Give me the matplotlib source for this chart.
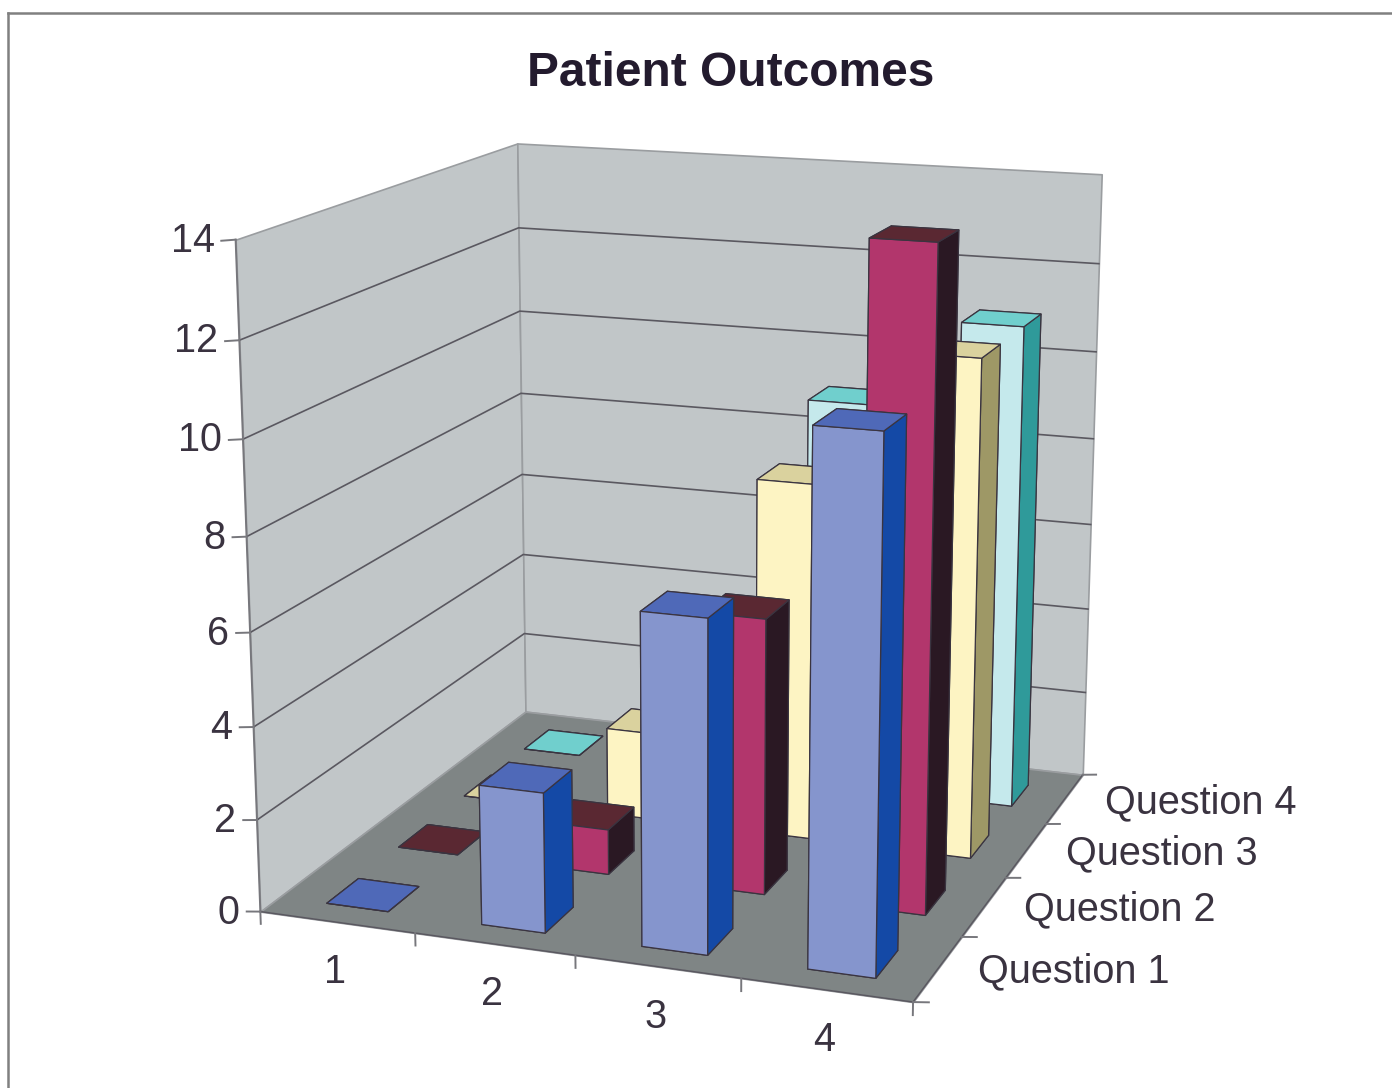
import numpy as np
import matplotlib
matplotlib.use("Agg")
import matplotlib.pyplot as plt
from matplotlib.lines import Line2D
from matplotlib.ticker import NullLocator
from mpl_toolkits.mplot3d import Axes3D, proj3d
from mpl_toolkits.mplot3d.art3d import Poly3DCollection

plt.rcParams["font.family"] = ["Liberation Sans", "DejaVu Sans"]

# Chart data
categories = ["1", "2", "3", "4"]
series_names = ["Question 1", "Question 2", "Question 3", "Question 4"]
question_1 = [0, 3, 7, 11]
question_2 = [0, 1, 6, 14]
question_3 = [0, 2, 8, 11]
question_4 = [0, 3, 9, 11]
z_ticks = [0, 2, 4, 6, 8, 10, 12, 14]

# Face colours per series: front, top, side
series_colors = [
    ("#8595CD", "#4F69B8", "#1449A6"),
    ("#B2366C", "#5A2832", "#2A1823"),
    ("#FDF4C3", "#DAD29E", "#9E9866"),
    ("#C5E9EC", "#70CFCD", "#2F9A9A"),
]
WALL = "#C1C6C8"
FLOOR = "#7F8585"
TEXT = "#3A3340"
BAR_W = 0.40
BAR_D = 0.43
BAR_FRONT = 0.25

W, H = 1392, 1088

# Camera calibration: (category, series, value) -> (pixel x, pixel y)
calibration = [
    ((0, 0, 0), (262, 912)), ((4, 0, 0), (912, 1004)),
    ((0, 4, 0), (525, 713)), ((4, 4, 0), (1083, 772)),
    ((0, 0, 14), (236, 240)), ((0, 4, 14), (517, 143)),
    ((4, 4, 14), (1102, 175)), ((0, 0, 6), (249, 630)),
    ((0, 4, 6), (522, 475)), ((4, 4, 6), (1091, 525)),
]


def solve_camera(points):
    rows, rhs = [], []
    for (X, Y, Z), (u, v) in points:
        v = H - v
        rows.append([X, Y, Z, 1, 0, 0, 0, 0, -u * X, -u * Y, -u * Z])
        rows.append([0, 0, 0, 0, X, Y, Z, 1, -v * X, -v * Y, -v * Z])
        rhs += [u, v]
    p = np.linalg.lstsq(np.array(rows, float), np.array(rhs, float), rcond=None)[0]
    # The third row only carries depth, for the painter ordering inside a box.
    return np.array([p[:4], p[4:8], [-0.1, 1.0, -0.05, 0.0], [p[8], p[9], p[10], 1.0]])


class FixedCameraAxes(Axes3D):
    """3D axes whose projection is a fixed matrix onto figure pixels."""
    camera = solve_camera(calibration)

    def get_proj(self):
        return self.camera

    def apply_aspect(self, position=None):
        pass


fig = plt.figure(figsize=(W / 100, H / 100), dpi=100, facecolor="white")
ax = FixedCameraAxes(fig, [0, 0, 1, 1], proj_type="ortho")
fig.add_axes(ax)
ax.set_axis_off()
ax.patch.set_alpha(0)
ax.computed_zorder = False
ax.viewLim.intervalx = (0, W)
ax.viewLim.intervaly = (0, H)
for axis in (ax.xaxis, ax.yaxis, ax.zaxis):
    axis.set_major_locator(NullLocator())


def axis_label(x, y, z, text, dx, dy, ha):
    """Label a 3D position, set off from it by a pixel offset on the page."""
    u, v, _ = proj3d.proj_transform(x, y, z, ax.get_proj())
    ax.text2D(u + dx, v + dy, text, transform=ax.transData, ha=ha, va="center",
              fontsize=28.5, color=TEXT, clip_on=False)


nx, ny = len(categories), len(series_names)
ztop = z_ticks[-1]

# Walls and floor
panes = [
    ([(0, 0, 0), (0, ny, 0), (0, ny, ztop), (0, 0, ztop)], WALL),
    ([(0, ny, 0), (nx, ny, 0), (nx, ny, ztop), (0, ny, ztop)], WALL),
    ([(0, 0, 0), (nx, 0, 0), (nx, ny, 0), (0, ny, 0)], FLOOR),
]
for verts, col in panes:
    ax.add_collection3d(Poly3DCollection([verts], facecolors=col, edgecolors="#9A9DA0",
                                         linewidths=1.2, zorder=1))

# Gridlines along both walls
for z in z_ticks[1:-1]:
    ax.plot([0, 0, nx], [0, ny, ny], [z, z, z], color="#5A5860", lw=1.2, zorder=2)

# Axis lines and tick marks
axis_kw = dict(color="#77777C", lw=1.4, zorder=3)
ax.plot([0, 0], [0, 0], [0, ztop], **axis_kw)
ax.plot([0, nx, nx], [0, 0, ny], [0, 0, 0], color="#5A5860", lw=1.1, zorder=3)
for z in z_ticks:
    ax.plot([-0.09, 0], [0, 0], [z - 0.04, z], **axis_kw)
    axis_label(0, 0, z, str(z), -21, -1, "right")
for i in range(nx + 1):
    ax.plot([i, i], [0, 0], [-0.27, 0], **axis_kw)
for j in range(ny + 1):
    ax.plot([nx, nx + 0.09], [j, j], [0, 0.04], **axis_kw)

# Bars, painted from the back row to the front row
rows = [question_1, question_2, question_3, question_4]
z_order = 10
for j in reversed(range(ny)):
    front, top, side = series_colors[j]
    # bottom, top, front, back, left, right
    faces = [top, top, front, front, side, side]
    for i in range(nx):
        ax.bar3d(i + 0.51 - BAR_W / 2, j + BAR_FRONT, 0, BAR_W, BAR_D, rows[j][i],
                 color=faces, shade=False, edgecolor="#3A3440", linewidth=0.9,
                 zorder=z_order)
        z_order += 1

# Axis labels
for i, label in enumerate(categories):
    axis_label(i + 0.5, 0, 0, label, -2.5, -50, "center")
for j, label in enumerate(series_names):
    axis_label(nx, j + 0.5, 0, label, 40, -3, "left")

fig.text(731 / W, 1 - 74 / H, "Patient Outcomes", ha="center", va="center",
         fontsize=34.5, fontweight="bold", color="#231B2E")

# Chart frame
for xs, ys in [((8, 8), (13, H)), ((8, W), (13, 13))]:
    fig.add_artist(Line2D([x / W for x in xs], [1 - y / H for y in ys],
                          color="#808080", lw=1.8))

fig.savefig("out.png", dpi=100, facecolor="white")
